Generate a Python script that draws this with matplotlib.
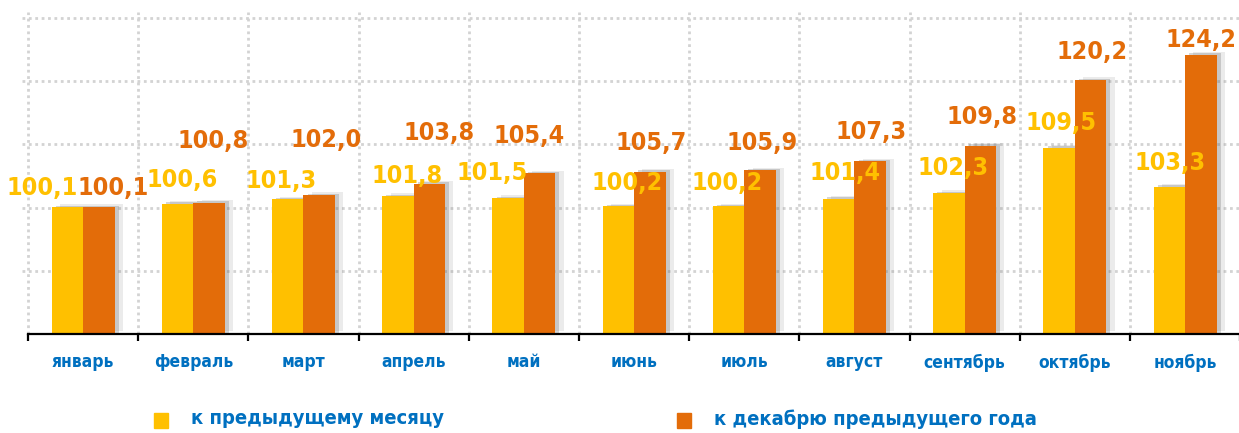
import matplotlib
matplotlib.use('Agg')
import matplotlib.pyplot as plt
import matplotlib.patheffects as pe
from matplotlib.patches import Rectangle
import numpy as np

# данные
months = ['январь', 'февраль', 'март', 'апрель', 'май', 'июнь', 'июль',
          'август', 'сентябрь', 'октябрь', 'ноябрь']
prev_month = [100.1, 100.6, 101.3, 101.8, 101.5, 100.2, 100.2, 101.4, 102.3, 109.5, 103.3]
prev_dec = [100.1, 100.8, 102.0, 103.8, 105.4, 105.7, 105.9, 107.3, 109.8, 120.2, 124.2]
legend_labels = ['к предыдущему месяцу', 'к декабрю предыдущего года']

# сдвиги подписей (пиксели) относительно верха столбца
dx_prev_month = [-25, 5, -7, 9, -16, 9, -1, 6, 4, 2, 1]
dy_prev_month = [19, 24, 18, 20, 25, 23, 23, 26, 25, 25, 24]
dx_prev_dec = [14, 4, 7, 10, -10, 1, 2, 1, 2, 1, 0]
dy_prev_dec = [19, 62, 55, 51, 37, 29, 27, 29, 29, 28, 15]

YELLOW = '#FFC000'
ORANGE = '#E36C09'
BLUE = '#0070C0'

plt.rcParams['font.family'] = ['DejaVu Sans']
plt.rcParams['font.stretch'] = 'condensed'

W, H = 1239, 433
fig = plt.figure(figsize=(W / 100, H / 100), dpi=100)

cat_w = 110.2  # px на категорию
x0 = 28 - 0.05 * cat_w
ppu = 6.32  # px на единицу по y
y_bot = 334
y_top = y_bot - 51 * ppu
ax = fig.add_axes([x0 / W, (H - y_bot) / H, (11.05 * cat_w) / W, (y_bot - y_top) / H])
ax.set_xlim(-0.55, 10.5)
ax.set_ylim(80, 131)

x = np.arange(len(months))
bw = 0.285

shadow = [pe.SimplePatchShadow(offset=(6, 2), shadow_rgbFace='#7f7f7f', alpha=0.15),
          pe.SimplePatchShadow(offset=(3, 1), shadow_rgbFace='#5f5f5f', alpha=0.25),
          pe.Normal()]

b1 = ax.bar(x - bw / 2, [v - 80 for v in prev_month], bw, bottom=80, color=YELLOW, zorder=3)
b2 = ax.bar(x + bw / 2, [v - 80 for v in prev_dec], bw, bottom=80, color=ORANGE, zorder=4)
for r in list(b1) + list(b2):
    r.set_path_effects(shadow)

def fmt(v):
    return f'{v:.1f}'.replace('.', ',')

for i in range(len(months)):
    ax.annotate(fmt(prev_month[i]), (x[i] - bw / 2, prev_month[i]),
                xytext=(dx_prev_month[i], dy_prev_month[i]), textcoords='offset pixels',
                ha='center', va='center', fontsize=18, fontweight='bold',
                color=YELLOW, zorder=6, annotation_clip=False)
    ax.annotate(fmt(prev_dec[i]), (x[i] + bw / 2, prev_dec[i]),
                xytext=(dx_prev_dec[i], dy_prev_dec[i]), textcoords='offset pixels',
                ha='center', va='center', fontsize=18, fontweight='bold',
                color=ORANGE, zorder=6, annotation_clip=False)

# сетка
bounds = np.arange(len(months) + 1) - 0.5
for b in bounds:
    ax.axvline(b, color='#D3D3D3', lw=2, dashes=(1, 1.3), zorder=1)
for yv in [90, 100, 110, 120, 130]:
    ax.axhline(yv, color='#D3D3D3', lw=2, dashes=(1, 1.3), zorder=1)

for s in ['left', 'right', 'top']:
    ax.spines[s].set_visible(False)
ax.spines['bottom'].set_linewidth(1.6)
ax.spines['bottom'].set_bounds(-0.5, 10.5)
ax.spines['bottom'].set_zorder(7)
ax.set_yticks([])
ax.set_xticks(bounds)
ax.set_xticklabels([])
ax.tick_params(axis='x', which='major', length=5, width=1.6, direction='out')
ax.set_xticks(x, minor=True)
ax.set_xticklabels(months, minor=True, fontsize=12.5, fontweight='bold', color=BLUE)
ax.tick_params(axis='x', which='minor', length=0, pad=14)

# легенда
def legend_item(px, label, color):
    fig.patches.append(Rectangle(((px) / W, (H - 428) / H), 14 / W, 15 / H,
                                 transform=fig.transFigure, color=color))
    fig.text((px + 37) / W, (H - 419) / H, label, fontsize=14.5, fontweight='bold',
             color=BLUE, ha='left', va='center')

legend_item(154, legend_labels[0], YELLOW)
legend_item(677, legend_labels[1], ORANGE)

fig.savefig('out.png', dpi=100)
